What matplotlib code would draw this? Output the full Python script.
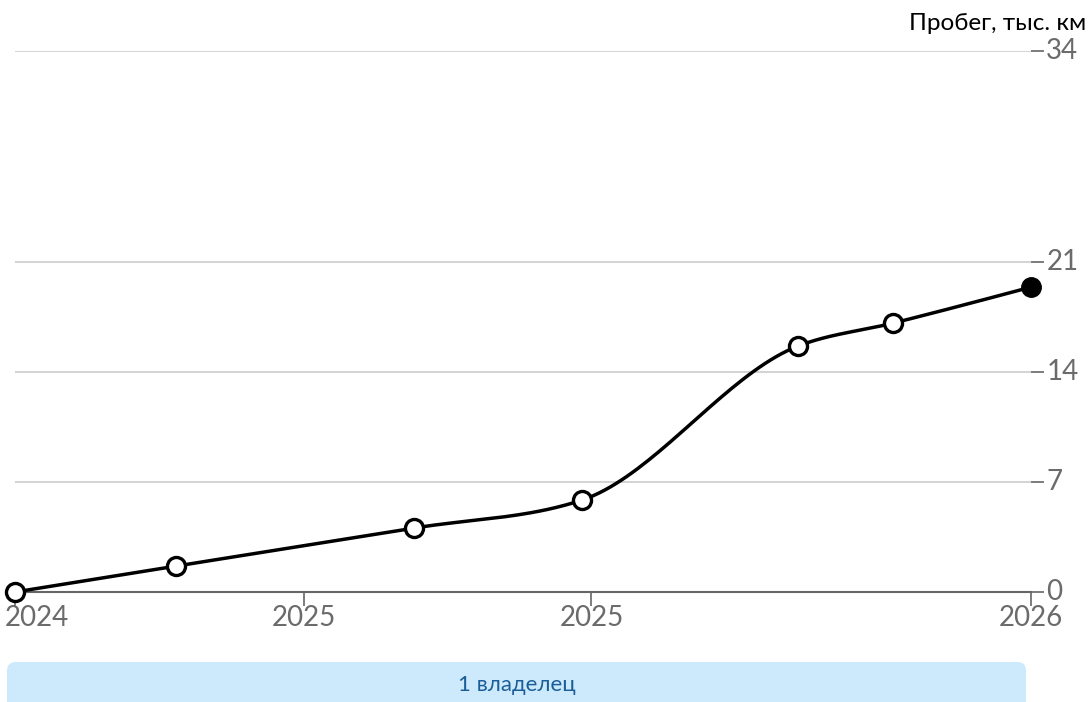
import numpy as np
import matplotlib
matplotlib.use("Agg")
import matplotlib.pyplot as plt
import matplotlib.transforms as mtrans
from matplotlib.patches import FancyBboxPatch

# ---- data ----
months = [0.0, 3.34, 8.28, 11.77, 16.25, 18.22, 21.08]   # months since first record
mileage = [0.0, 1.65, 4.07, 5.86, 15.66, 17.12, 19.41]  # thousand km
x_tick_pos = [0.0, 6.0, 11.96, 21.08]
x_tick_labels = ["2024", "2025", "2025", "2026"]
y_ticks = [0, 7, 14, 21, 34.44]
y_tick_labels = ["0", "7", "14", "21", "34"]
y_max = 34.44
y_title = "Пробег, тыс. км"
owner_label = "1 владелец"

FONT = ["Lato", "DejaVu Sans"]
plt.rcParams["font.family"] = FONT


def monotone_curve(x, y, n=40):
    x = np.asarray(x, float); y = np.asarray(y, float)
    h = np.diff(x); d = np.diff(y) / h
    m = np.zeros_like(y)
    for i in range(1, len(x) - 1):
        if d[i - 1] * d[i] <= 0:
            m[i] = 0
        else:
            s = (d[i - 1] * h[i] + d[i] * h[i - 1]) / (h[i - 1] + h[i])
            m[i] = (np.sign(d[i - 1]) + np.sign(d[i])) * min(abs(d[i - 1]), abs(d[i]), 0.5 * abs(s))
    m[0] = (3 * d[0] - m[1]) / 2
    m[-1] = (3 * d[-1] - m[-2]) / 2
    xs, ys = [], []
    for i in range(len(x) - 1):
        t = np.linspace(0, 1, n)
        h00 = 2 * t**3 - 3 * t**2 + 1
        h10 = t**3 - 2 * t**2 + t
        h01 = -2 * t**3 + 3 * t**2
        h11 = t**3 - t**2
        xs.append(x[i] + t * h[i])
        ys.append(h00 * y[i] + h10 * h[i] * m[i] + h01 * y[i + 1] + h11 * h[i] * m[i + 1])
    return np.concatenate(xs), np.concatenate(ys)


fig = plt.figure(figsize=(10.89, 7.02), dpi=100)
left, right = 15 / 1089, 1031 / 1089
bottom, top = (702 - 592) / 702, (702 - 51) / 702
ax = fig.add_axes([left, bottom, right - left, top - bottom])
ax.set_xlim(months[0], months[-1])
ax.set_ylim(0, y_max)

for yv in y_ticks[1:]:
    ax.axhline(yv, color="#cccccc", lw=1.2, zorder=1)

cx, cy = monotone_curve(months, mileage)
ax.plot(cx, cy, color="black", lw=2.5, zorder=3, clip_on=False, solid_capstyle="round")
ax.plot(months[:-1], mileage[:-1], "o", ms=13, mfc="white", mec="black", mew=2.4,
        zorder=4, clip_on=False)
ax.plot(months[-1:], mileage[-1:], "o", ms=14, mfc="black", mec="black", mew=1,
        zorder=4, clip_on=False)

for s in ["top", "left", "right"]:
    ax.spines[s].set_visible(False)
ax.spines["bottom"].set_color("#666666")
ax.spines["bottom"].set_linewidth(1.5)

ax.yaxis.tick_right()
ax.set_yticks(y_ticks)
ax.set_yticklabels(y_tick_labels)
ax.tick_params(axis="y", length=9, width=1.2, color="#666666", labelcolor="#6b6b6b",
               labelsize=20, pad=2)
ax.set_xticks(x_tick_pos)
ax.set_xticklabels(x_tick_labels)
ax.tick_params(axis="x", length=10, width=1.2, color="#666666", labelcolor="#6b6b6b",
               labelsize=20, pad=-1)
for lab in ax.get_yticklabels():
    lab.set_verticalalignment("center")
xl = ax.get_xticklabels()
xl[0].set_horizontalalignment("left")
xl[0].set_transform(xl[0].get_transform() + mtrans.ScaledTranslation(-10 / 100, 0, fig.dpi_scale_trans))

fig.text(1086 / 1089, 1 - 24 / 702, y_title, ha="right", va="center", fontsize=17.5,
         color="black")

band = FancyBboxPatch((7 / 1089, -0.05), (1026 - 7) / 1089, (702 - 662) / 702 + 0.05,
                      boxstyle="round,pad=0,rounding_size=0.008",
                      transform=fig.transFigure, facecolor="#cdeafc", edgecolor="none",
                      mutation_aspect=1089 / 702)
fig.patches.append(band)
fig.text(517 / 1089, 1 - 685 / 702, owner_label, ha="center", va="center", fontsize=16,
         color="#1b5d99")

fig.savefig("out.png", dpi=100)
